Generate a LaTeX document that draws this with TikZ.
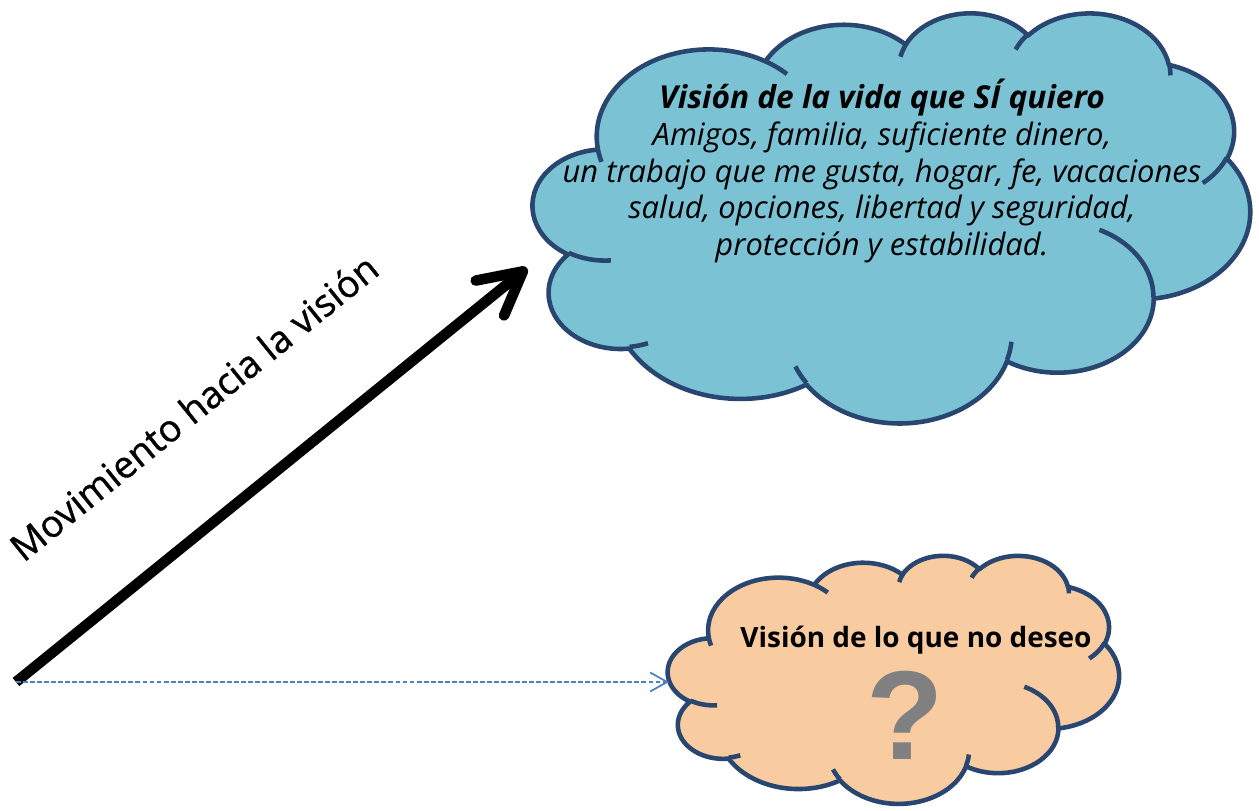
\documentclass[tikz,border=0pt]{standalone}
\usepackage{fontspec}
\setmainfont{Open Sans}
\newfontfamily\segoemed{Open Sans}[FakeBold=1]
\newfontfamily\arialn{Liberation Sans}
\usetikzlibrary{arrows.meta}

\definecolor{cielo}{RGB}{123,194,213}
\definecolor{durazno}{RGB}{248,203,161}
\definecolor{marino}{RGB}{40,70,112}
\definecolor{acento}{RGB}{79,129,189}
\definecolor{gris}{RGB}{128,128,128}

% one puff of the cloud: radii, start angle and sweep (visual angles)
\newcommand\cloudarc[4]{%
  \pgfextra{%
    \pgfmathparse{atan2((#1)*sin(#3),(#2)*cos(#3))}\xdef\cloudta{\pgfmathresult}%
    \pgfmathparse{atan2((#1)*sin((#3)+(#4)),(#2)*cos((#3)+(#4)))}\xdef\cloudtb{\pgfmathresult}%
    \pgfmathparse{mod((\cloudtb)-(\cloudta)+720,360)}\xdef\clouddt{\pgfmathresult}}%
  arc[start angle=\cloudta, delta angle=\clouddt, x radius=#1, y radius=#2]}

% cloud in the frame x, y, width, height, with fill colour
\newcommand\nube[5]{%
  \begin{scope}[shift={(#1,#2)}, xscale=#3/432, yscale=#4/432]
    \path[contorno, fill=#5] (39.00,143.70)
      \cloudarc{67.53}{91.90}{-190.4875}{123.7805}
      \cloudarc{53.33}{72.67}{-144.1024}{89.9452}
      \cloudarc{43.65}{59.45}{-145.8079}{99.7230}
      \cloudarc{48.57}{65.95}{-130.9861}{117.2417}
      \cloudarc{53.33}{72.73}{-78.7089}{109.0269}
      \cloudarc{67.75}{92.20}{-46.2673}{130.2690}
      \cloudarc{57.85}{78.67}{0.6250}{114.0333}
      \cloudarc{67.52}{92.15}{22.4516}{115.1726}
      \cloudarc{77.20}{105.43}{66.2426}{75.7110}
      \cloudarc{43.60}{59.18}{-274.9421}{146.7356}
      \cloudarc{43.45}{59.45}{-246.8285}{152.5189}
      -- cycle;
    \draw[contorno]
      (46.93,261.77) \cloudarc{43.45}{59.45}{86.7420}{26.4295}
      (69.28,348.99) \cloudarc{43.60}{59.18}{73.6105}{11.4475}
      (164.78,390.90) \cloudarc{67.52}{92.15}{137.6242}{14.0811}
      (288.27,347.51) \cloudarc{67.52}{92.15}{6.4533}{15.9984}
      (341.29,229.54) \cloudarc{57.85}{78.67}{-70.2924}{70.9174}
      (417.98,153.54) \cloudarc{53.33}{72.73}{30.3180}{27.7515}
      (383.24,54.26) \cloudarc{48.57}{65.95}{-13.7443}{14.8589}
      (290.78,39.52) \cloudarc{48.57}{65.95}{-149.1815}{18.1954}
      (221.41,47.20) \cloudarc{43.65}{59.45}{-163.4943}{17.6864}
      (140.00,51.92) \cloudarc{67.53}{91.90}{-66.7070}{12.3194}
      (41.27,157.89) \cloudarc{67.53}{91.90}{-202.3593}{11.8719};
  \end{scope}}

\begin{document}
\begin{tikzpicture}[x=0.02cm, y=-0.02cm,
    contorno/.style={draw=marino, line width=2.6pt, line join=round},
    flecha/.style={line width=6pt, -{Straight Barb[length=8.5mm, width=9mm, round]}},
    guia/.style={draw=acento, line width=1pt, dash pattern=on 2.8pt off 1.2pt,
                 -{Straight Barb[length=3.4mm, width=3.8mm]}},
    rotulo/.style={font=\segoemed\fontsize{21.3}{25}\selectfont, inner sep=0pt},
    texto/.style={align=center, inner sep=0pt},
  ]
  \useasboundingbox (0,0) rectangle (1259,811);

  % Clouds
  \nube{533}{12}{717}{410}{cielo}
  \nube{668}{555}{451}{248}{durazno}

  % Texts in the clouds
  \node[texto, font=\itshape\fontsize{17.6}{21}\selectfont] (quiero) at (882,171)
    {{\bfseries\fontsize{18}{21}\selectfont Visión de la vida que SÍ quiero}\\
     Amigos, familia, suficiente dinero,\\
     un trabajo que me gusta, hogar, fe, vacaciones\\
     salud, opciones, libertad y seguridad,\\
     protección y estabilidad.};
  \node[texto, font=\bfseries\fontsize{15.9}{19}\selectfont, anchor=base]
    (nodeseo) at (916,647) {Visión de lo que no deseo};
  \node[inner sep=0pt, text=gris, font=\arialn\bfseries\fontsize{72}{80}\selectfont]
    (duda) at (905,715) {?};

  % Connectors
  \coordinate (inicio) at (16,682);
  \coordinate (meta)   at (527,268);
  \coordinate (borde)  at (669,682);
  \draw[flecha] (inicio) -- node[rotulo, sloped, pos=0.473, above=1.64cm]
    {Movimiento hacia la visión} (meta);
  \draw[guia] (inicio) -- (borde);
\end{tikzpicture}
\end{document}
